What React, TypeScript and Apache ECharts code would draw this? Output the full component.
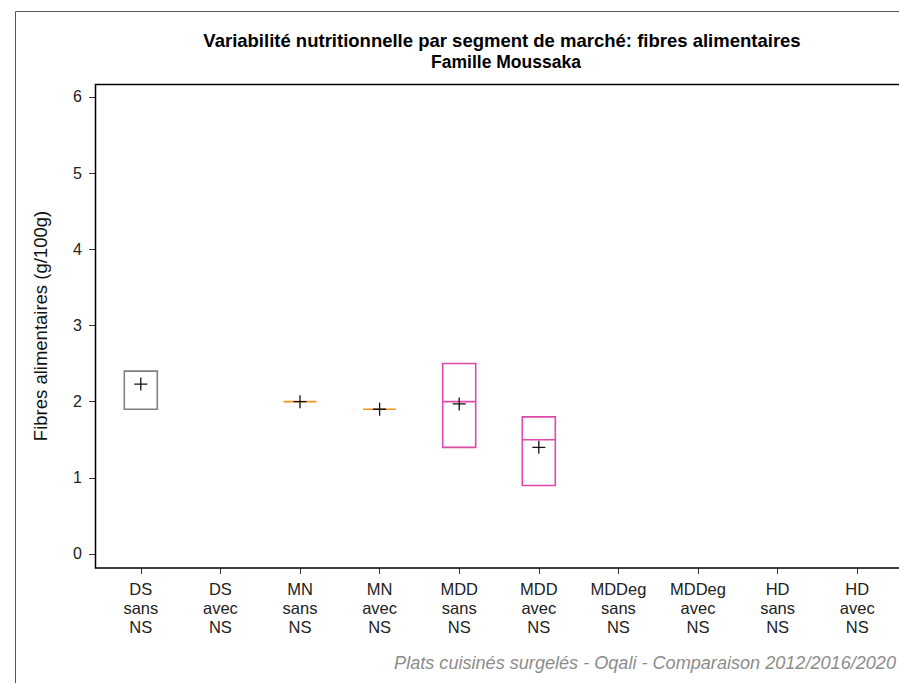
import React, { useEffect, useRef } from "react";
import * as echarts from "echarts";

const categories = [
  "DS\nsans\nNS", "DS\navec\nNS", "MN\nsans\nNS", "MN\navec\nNS", "MDD\nsans\nNS",
  "MDD\navec\nNS", "MDDeg\nsans\nNS", "MDDeg\navec\nNS", "HD\nsans\nNS", "HD\navec\nNS",
];
const boxMin = [1.9, null, 2.0, 1.9, 1.4, 0.9, null, null, null, null];
const boxQ1 = [1.9, null, 2.0, 1.9, 1.4, 0.9, null, null, null, null];
const boxMedian = [2.4, null, 2.0, 1.9, 2.0, 1.5, null, null, null, null];
const boxQ3 = [2.4, null, 2.0, 1.9, 2.5, 1.8, null, null, null, null];
const boxMax = [2.4, null, 2.0, 1.9, 2.5, 1.8, null, null, null, null];
const means = [2.23, null, 2.0, 1.9, 1.97, 1.4, null, null, null, null];
const segmentColors = ["#808080", "#808080", "#f7941d", "#f7941d", "#dd4aa8", "#dd4aa8", "#3a7fc1", "#3a7fc1", "#2ca02c", "#2ca02c"];
const yTicks = [0, 1, 2, 3, 4, 5, 6];

const titleLine1 = "Variabilité nutritionnelle par segment de marché: fibres alimentaires";
const titleLine2 = "Famille Moussaka";
const yName = "Fibres alimentaires (g/100g)";
const footer = "Plats cuisinés surgelés - Oqali - Comparaison 2012/2016/2020";

const FONT = "'Liberation Sans', Arial, sans-serif";

export default function App() {
  const ref = useRef<HTMLDivElement>(null);
  useEffect(() => {
    const chart = echarts.init(ref.current!, undefined, { renderer: "svg" });
    const boxData: any[] = [];
    const meanData: any[] = [];
    categories.forEach((_, i) => {
      if (boxMin[i] !== null) {
        boxData.push({
          value: [i, boxMin[i], boxQ1[i], boxMedian[i], boxQ3[i], boxMax[i]],
          itemStyle: { color: "rgba(255,255,255,0)", borderColor: segmentColors[i], borderWidth: 1.6 },
        });
      }
      if (means[i] !== null) meanData.push([i, means[i]]);
    });
    chart.setOption({
      animation: false,
      backgroundColor: "#ffffff",
      textStyle: { fontFamily: FONT },
      grid: { left: 101, right: 2, top: 84, bottom: 115, containLabel: false },
      xAxis: {
        type: "category",
        data: categories,
        boundaryGap: true,
        axisLine: { show: false, onZero: false },
        axisTick: { show: true, alignWithLabel: true, length: 6, lineStyle: { color: "#333", width: 1 } },
        axisLabel: { fontSize: 16.5, color: "#222", lineHeight: 19, margin: 11, fontFamily: FONT, interval: 0 },
        splitLine: { show: false },
      },
      yAxis: {
        type: "value",
        min: -0.184,
        max: 6.17,
        offset: 5,
        axisLine: { show: false },
        axisTick: { show: true, length: 7, customValues: yTicks, lineStyle: { color: "#333", width: 1 } },
        axisLabel: { fontSize: 16, color: "#222", margin: 14, customValues: yTicks, fontFamily: FONT },
        splitLine: { show: false },
        name: yName,
        nameLocation: "middle",
        nameGap: 46,
        nameTextStyle: { fontSize: 18.5, color: "#111", fontFamily: FONT },
      },
      series: [
        {
          type: "boxplot",
          data: boxData,
          encode: { x: 0, y: [1, 2, 3, 4, 5] },
          boxWidth: [33, 33],
          itemStyle: { color: "rgba(255,255,255,0)", borderWidth: 1.6 },
          z: 2,
        },
        {
          type: "scatter",
          data: meanData,
          symbol: "path://M0,6H12M6,0V12",
          symbolSize: 13,
          itemStyle: { color: "none", borderColor: "#111", borderWidth: 1.3, opacity: 1 },
          z: 3,
        },
      ],
      graphic: [
        { type: "rect", shape: { x: 15.5, y: 11.5, width: 1000, height: 1000 }, style: { fill: "none", stroke: "#555", lineWidth: 1 }, silent: true },
        { type: "rect", shape: { x: 95.5, y: 84.5, width: 900, height: 483.5 }, style: { fill: "none", stroke: "#000", lineWidth: 1.5 }, silent: true, z: 10 },
        { type: "text", x: 502, y: 40, style: { text: titleLine1, font: `bold 18.5px ${FONT}`, fill: "#000", align: "center", verticalAlign: "middle" } },
        { type: "text", x: 506, y: 62, style: { text: titleLine2, font: `bold 17.5px ${FONT}`, fill: "#000", align: "center", verticalAlign: "middle" } },
        { type: "text", x: 896, y: 663, style: { text: footer, font: `italic 18.1px ${FONT}`, fill: "#8c8c8c", align: "right", verticalAlign: "middle" } },
      ],
    });
    return () => chart.dispose();
  }, []);
  return <div ref={ref} style={{ position: "fixed", left: 0, top: 0, width: 899, height: 683 }} />;
}
